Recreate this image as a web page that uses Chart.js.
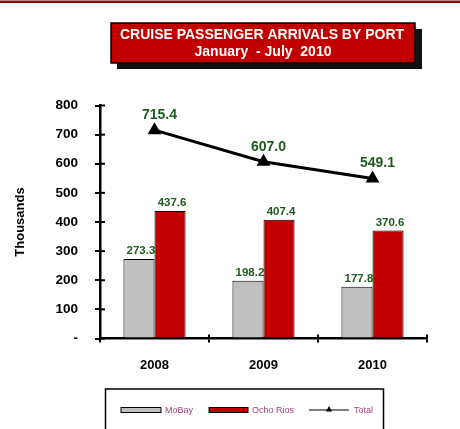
<!DOCTYPE html>
<html>
<head>
<meta charset="utf-8">
<script src="https://cdn.jsdelivr.net/npm/chart.js@4.4.0/dist/chart.umd.min.js"></script>
<style>
  html, body { margin: 0; padding: 0; background: #fff; }
  #wrap { width: 460px; height: 429px; position: relative; }
</style>
</head>
<body>
<div id="wrap"><canvas id="myChart" width="460" height="429"></canvas></div>
<script>
var years = ['2008', '2009', '2010'];
var moBay = [273.3, 198.2, 177.8];
var ochoRios = [437.6, 407.4, 370.6];
var total = [715.4, 607.0, 549.1];
var seriesNames = ['MoBay', 'Ocho Rios', 'Total'];
var titleLines = ['CRUISE PASSENGER ARRIVALS BY PORT', 'January  - July  2010'];
var yTitle = 'Thousands';

var FONT = '"Liberation Sans", Arial, Helvetica, sans-serif';
var GREEN = '#1f5a1f';
var RED = '#c00000';
var GREY = '#c0c0c0';

// banner, top rule, inner tick marks, value labels and legend box
var decor = {
    id: 'decor',
    afterDraw: function (chart) {
        var ctx = chart.ctx;
        ctx.save();
        // top rule
        ctx.fillStyle = '#8c0a0a';
        ctx.fillRect(0, 0.5, 460, 2.5);

        // title box with shadow
        ctx.fillStyle = '#111';
        ctx.fillRect(117, 29, 305, 40);
        ctx.fillStyle = RED;
        ctx.fillRect(111, 23, 304, 40);
        ctx.lineWidth = 1.5;
        ctx.strokeStyle = '#000';
        ctx.strokeRect(111, 23, 304, 40);
        ctx.fillStyle = '#fff';
        ctx.textAlign = 'center';
        ctx.textBaseline = 'middle';
        ctx.font = 'bold 14px ' + FONT;
        ctx.fillText(titleLines[0], 262, 35.5);
        ctx.fillText(titleLines[1], 263, 52);

        // inner halves of the tick marks
        var xs = chart.scales.x, ys = chart.scales.y;
        ctx.strokeStyle = '#000';
        ctx.lineWidth = 2;
        ys.ticks.forEach(function (t, i) {
            var y = ys.getPixelForTick(i);
            ctx.beginPath();
            ctx.moveTo(ys.right, y);
            ctx.lineTo(ys.right + 5, y);
            ctx.stroke();
        });
        for (var i = 0; i <= years.length; i++) {
            var x = xs.left + (xs.right - xs.left) * i / years.length;
            ctx.beginPath();
            ctx.moveTo(x, xs.top);
            ctx.lineTo(x, xs.top - 4);
            ctx.stroke();
        }

        // value labels
        ctx.fillStyle = GREEN;
        ctx.textAlign = 'center';
        ctx.textBaseline = 'bottom';
        ctx.font = 'bold 11.5px ' + FONT;
        [0, 1].forEach(function (d) {
            chart.getDatasetMeta(d).data.forEach(function (el, i) {
                ctx.fillText(chart.data.datasets[d].data[i].toFixed(1), el.x + 2, el.y - 2);
            });
        });
        ctx.font = 'bold 14px ' + FONT;
        chart.getDatasetMeta(2).data.forEach(function (el, i) {
            ctx.fillText(total[i].toFixed(1), el.x + 5, el.y - 8);
        });

        // legend
        ctx.lineWidth = 1.5;
        ctx.strokeStyle = '#000';
        ctx.strokeRect(105.5, 389, 278, 60);
        var cy = 410;
        ctx.font = '9px ' + FONT;
        ctx.textAlign = 'left';
        ctx.textBaseline = 'middle';
        ctx.lineWidth = 1;
        ctx.fillStyle = GREY;
        ctx.fillRect(121, cy - 2.5, 40, 5);
        ctx.strokeRect(121, cy - 2.5, 40, 5);
        ctx.fillStyle = RED;
        ctx.fillRect(209, cy - 2.5, 39, 5);
        ctx.strokeRect(209, cy - 2.5, 39, 5);
        ctx.lineWidth = 1.2;
        ctx.beginPath();
        ctx.moveTo(309, cy);
        ctx.lineTo(349, cy);
        ctx.stroke();
        ctx.fillStyle = '#000';
        ctx.beginPath();
        ctx.moveTo(329, cy - 4);
        ctx.lineTo(332, cy + 1.5);
        ctx.lineTo(326, cy + 1.5);
        ctx.closePath();
        ctx.fill();
        ctx.fillStyle = '#a3437a';
        ctx.fillText(seriesNames[0], 165, cy + 0.5);
        ctx.fillText(seriesNames[1], 252, cy + 0.5);
        ctx.fillText(seriesNames[2], 354, cy + 0.5);
        ctx.restore();
    }
};

var ctx = document.getElementById('myChart').getContext('2d');
var chart = new Chart(ctx, {
    type: 'bar',
    data: {
        labels: years,
        datasets: [{
            label: seriesNames[0],
            data: moBay,
            backgroundColor: GREY,
            borderColor: '#000',
            borderWidth: 1,
            categoryPercentage: 0.57,
            barPercentage: 1,
            order: 2
        }, {
            label: seriesNames[1],
            data: ochoRios,
            backgroundColor: RED,
            borderColor: '#000',
            borderWidth: 1,
            categoryPercentage: 0.57,
            barPercentage: 1,
            order: 2
        }, {
            type: 'line',
            label: seriesNames[2],
            data: total,
            borderColor: '#000',
            backgroundColor: '#000',
            borderWidth: 3,
            pointStyle: 'triangle',
            pointRadius: 8,
            pointBorderWidth: 0,
            tension: 0,
            order: 1
        }]
    },
    options: {
        responsive: false,
        animation: false,
        layout: { padding: { left: 0, right: 33, top: 105.5, bottom: 50.5 } },
        plugins: {
            legend: { display: false },
            tooltip: { enabled: false }
        },
        scales: {
            x: {
                afterFit: function (s) { s.height = 40; },
                grid: { offset: true, drawOnChartArea: false, tickLength: 4, color: '#000', lineWidth: 2 },
                border: { color: '#000', width: 2.5 },
                ticks: { color: '#000', padding: 15, font: { family: FONT, size: 13, weight: 'bold' } }
            },
            y: {
                min: 0,
                max: 800,
                afterFit: function (s) { s.width = 100; },
                grid: { drawOnChartArea: false, tickLength: 5, color: '#000', lineWidth: 2 },
                border: { color: '#000', width: 2.5 },
                ticks: {
                    stepSize: 100,
                    color: '#000',
                    padding: 17,
                    font: { family: FONT, size: 13.5, weight: 'bold' },
                    callback: function (v) { return v === 0 ? '-' : v; }
                },
                title: {
                    display: true,
                    text: yTitle,
                    color: '#000',
                    padding: { top: 13, bottom: 0 },
                    font: { family: FONT, size: 13, weight: 'bold' }
                }
            }
        }
    },
    plugins: [decor]
});
</script>
</body>
</html>
